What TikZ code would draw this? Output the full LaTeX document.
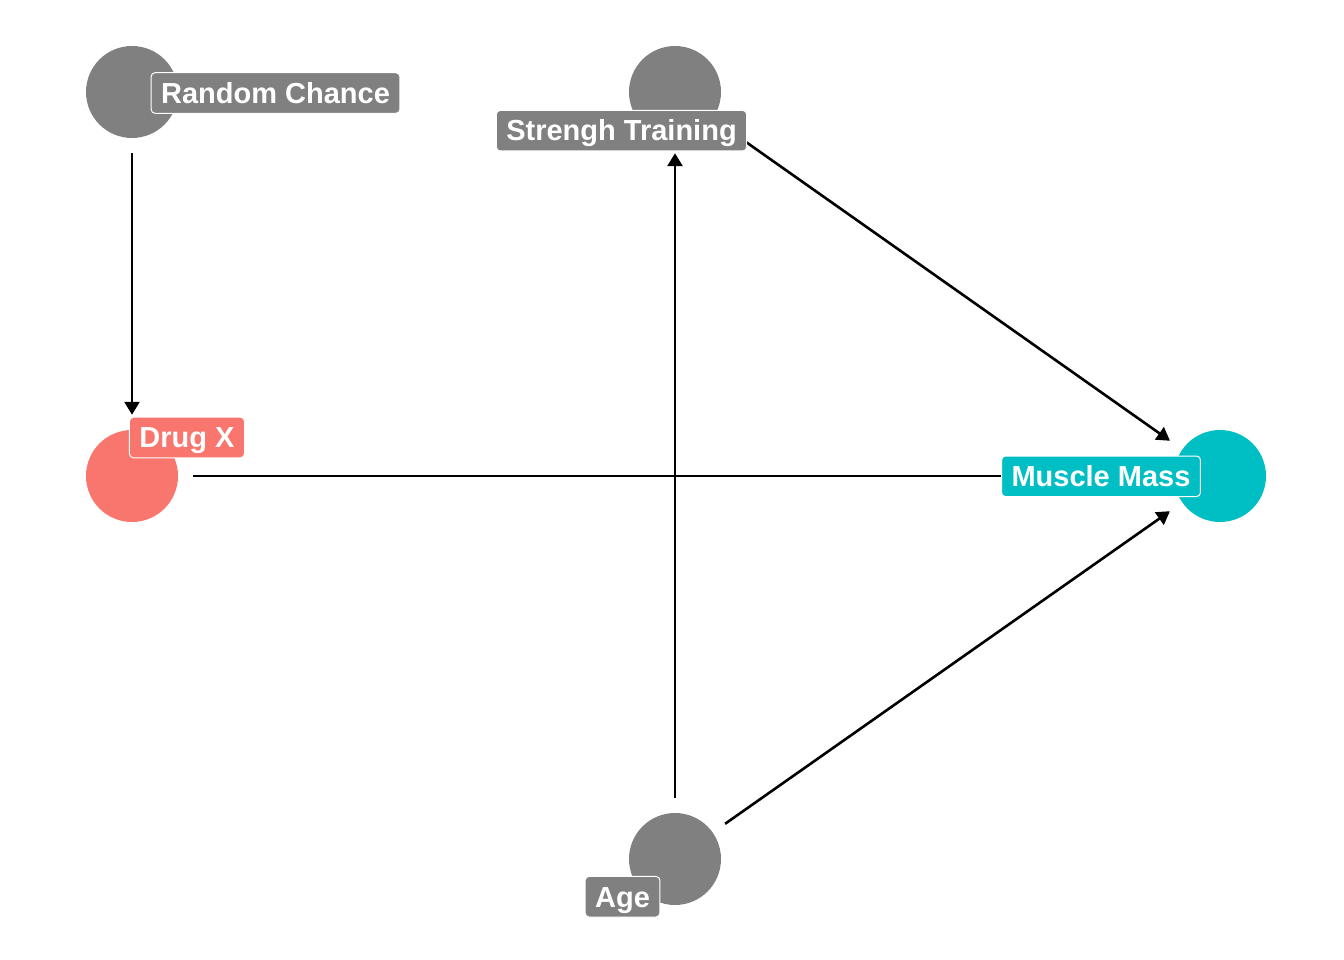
\documentclass[tikz,border=0pt]{standalone}
\usepackage{fontspec}
\setmainfont{Liberation Sans}
\usetikzlibrary{arrows.meta}
\definecolor{dgray}{HTML}{808080}
\definecolor{dred}{HTML}{F8766D}
\definecolor{dcyan}{HTML}{00BFC4}
\tikzset{
  dot/.style={circle, minimum size=92pt, inner sep=0pt, draw=none},
  lab/.style={rectangle, rounded corners=4pt, draw=white, line width=1pt,
    text=white, inner xsep=10pt, inner ysep=10pt, text height=20.6pt, text depth=0pt,
    font=\bfseries\fontsize{29}{30}\selectfont},
  edge/.style={line width=2.6pt, -{Triangle[length=13pt,width=15pt]},
    shorten <=15pt, shorten >=15pt}
}
\begin{document}
\begin{tikzpicture}[x=1pt,y=-1pt]
\useasboundingbox (0,0) rectangle (1344,960);
% nodes
\node[dot, fill=dgray] (rc) at (132,92) {};
\node[dot, fill=dgray] (st) at (675,92) {};
\node[dot, fill=dred] (dx) at (132,476) {};
\node[dot, fill=dcyan] (mm) at (1220,476) {};
\node[dot, fill=dgray] (ag) at (675,859) {};
% edges
\draw[edge] (rc) -- (dx);
\draw[edge] (ag) -- (st);
\draw[edge] (st) -- (mm);
\draw[edge] (ag) -- (mm);
\draw[edge] (dx) -- (mm);
% labels
\node[lab, fill=dgray] (rcl) at (275.5,93) {Random Chance};
\node[lab, fill=dgray] (stl) at (621.5,130.7) {Strengh Training};
\node[lab, fill=dred] (dxl) at (187,437.5) {Drug X};
\node[lab, fill=dcyan] (mml) at (1101,476.3) {Muscle Mass};
\node[lab, fill=dgray] (agl) at (622.5,896.7) {Age};
\end{tikzpicture}
\end{document}
